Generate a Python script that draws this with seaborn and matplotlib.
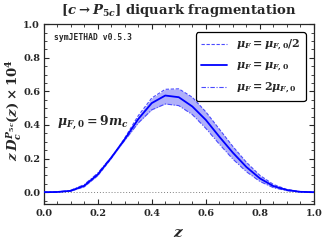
import numpy as np
import seaborn as sns
from matplotlib import pyplot as plt
from matplotlib.ticker import MultipleLocator

# values (z D(z) x 10^4)
z_vals = [0.0, 0.05, 0.1, 0.15, 0.2, 0.25, 0.3, 0.35, 0.4, 0.45, 0.5,
          0.55, 0.6, 0.65, 0.7, 0.75, 0.8, 0.85, 0.9, 0.95, 1.0]
d_central = [0.0, 0.001, 0.008, 0.038, 0.105, 0.205, 0.315, 0.435, 0.53, 0.575, 0.565,
             0.51, 0.43, 0.33, 0.235, 0.15, 0.082, 0.036, 0.013, 0.002, 0.0]
d_half = [0.0, 0.001, 0.006, 0.032, 0.098, 0.2, 0.322, 0.455, 0.56, 0.612, 0.615,
          0.565, 0.478, 0.375, 0.272, 0.178, 0.1, 0.046, 0.016, 0.003, 0.0]
d_double = [0.0, 0.002, 0.011, 0.045, 0.113, 0.208, 0.308, 0.412, 0.49, 0.525, 0.515,
            0.462, 0.38, 0.286, 0.197, 0.122, 0.064, 0.027, 0.009, 0.001, 0.0]

labels = [r"$\mu_F = \mu_{F,0}/2$", r"$\mu_F = \mu_{F,0}$", r"$\mu_F = 2\mu_{F,0}$"]

sns.set_style("ticks")
plt.rcParams["font.family"] = ["DejaVu Serif"]
plt.rcParams["font.weight"] = "bold"
plt.rcParams["mathtext.fontset"] = "custom"
plt.rcParams["mathtext.rm"] = "DejaVu Serif:bold"
plt.rcParams["mathtext.it"] = "DejaVu Serif:italic:bold"
plt.rcParams["mathtext.bf"] = "DejaVu Serif:bold"

fig = plt.figure(figsize=(3.23, 2.46), dpi=100)
ax = fig.add_axes([0.135, 0.171, 0.837, 0.731])

# uncertainty band between the two scale choices
ax.fill_between(z_vals, np.minimum(d_half, d_double), np.maximum(d_half, d_double),
                color="#b0b0fa", linewidth=0, zorder=1)
ax.plot(z_vals, d_half, color="#4a4aff", linewidth=0.8,
        linestyle=(0, (3, 1.5)), label=labels[0], zorder=3)
sns.lineplot(x=z_vals, y=d_central, color="#0000ff", linewidth=1.3,
             label=labels[1], ax=ax, zorder=4)
ax.plot(z_vals, d_double, color="#4a4aff", linewidth=0.8,
        linestyle=(0, (4, 1.5, 1, 1.5)), label=labels[2], zorder=3)
ax.axhline(0, color="grey", linestyle=(0, (1, 2)), linewidth=0.7, zorder=2)

ax.set_xlim(0, 1)
ax.set_ylim(-0.07, 1.0)
ax.xaxis.set_major_locator(MultipleLocator(0.2))
ax.xaxis.set_minor_locator(MultipleLocator(0.05))
ax.yaxis.set_major_locator(MultipleLocator(0.2))
ax.yaxis.set_minor_locator(MultipleLocator(0.05))
ax.tick_params(which="both", direction="in", top=True, right=True, labelsize=7)
ax.tick_params(which="major", length=3.5, width=0.8)
ax.tick_params(which="minor", length=2, width=0.6)
ax.tick_params(axis="y", pad=2.5)
for s in ax.spines.values():
    s.set_linewidth(0.9)
for lab in ax.get_xticklabels() + ax.get_yticklabels():
    lab.set_fontweight("bold")

ax.set_xlabel(r"$z$", fontsize=11, labelpad=6)
ax.set_ylabel(r"$z\,D_c^{P_{5c}}(z)\times 10^4$", fontsize=9.5)
ax.yaxis.set_label_coords(-0.074, 0.52)
ax.set_title(r"$[c \rightarrow P_{5c}]$ diquark fragmentation", fontsize=9.5,
             fontweight="bold", pad=7)

ax.text(0.04, 0.95, "symJETHAD v0.5.3", transform=ax.transAxes, fontsize=5.8,
        family="DejaVu Sans Mono", va="top", ha="left")
ax.text(0.05, 0.45, r"$\mu_{F,0} = 9m_c$", transform=ax.transAxes, fontsize=9,
        va="center", ha="left")

leg = ax.legend(loc="upper right", fontsize=8, frameon=True, fancybox=True,
                edgecolor="black", handlelength=2.3, borderpad=0.5,
                labelspacing=0.6, bbox_to_anchor=(0.99, 0.985))
leg.get_frame().set_linewidth(0.9)
leg.get_frame().set_alpha(1)

fig.savefig("out.png", dpi=100)
